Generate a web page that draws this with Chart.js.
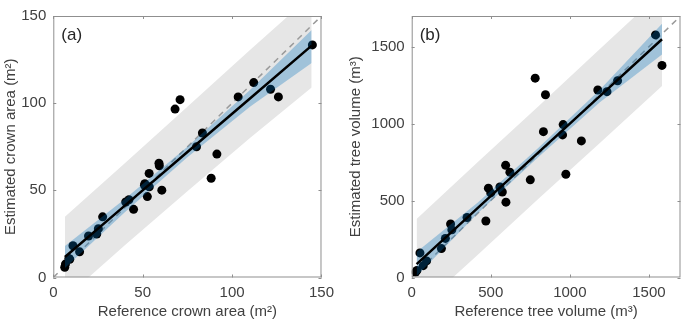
<!DOCTYPE html>
<html>
<head>
<meta charset="utf-8">
<script src="https://cdn.jsdelivr.net/npm/chart.js@4.4.1/dist/chart.umd.min.js"></script>
<style>
  body { margin: 0; background: #fff; }
  .wrap { position: relative; width: 685px; height: 324px; }
  .panel { position: absolute; top: 0; }
</style>
</head>
<body>
<div class="wrap">
  <canvas id="crownChart" class="panel" style="left:0" width="340" height="324"></canvas>
  <canvas id="volumeChart" class="panel" style="left:345px" width="340" height="324"></canvas>
</div>
<script>
// (a) crown area, m2
const crownRef = [6.4, 6.8, 8.7, 9.2, 11, 14.7, 19.7, 24.3, 25.2, 27.6, 40.5, 42.3, 44.9, 51, 51.2, 52.6,
    53.6, 53.7, 59.1, 59.3, 60.7, 68.1, 70.9, 80.1, 83.4, 88.3, 91.5, 103.4, 112.1, 121.5, 125.9, 144.9];
const crownEst = [5.9, 7.7, 10.9, 10.5, 18.2, 14.7, 23.8, 24.9, 28, 34.8, 43.3, 44.6, 39.1, 52.9, 53.8, 46.4,
    59.7, 52, 65.6, 64.1, 50.1, 96.6, 102, 75, 82.9, 56.9, 70.8, 103.6, 111.8, 108, 103.6, 133.4];
const crownBandX = [6.5, 40, 75, 110, 144.5];
const crownFit = [11.8, 41.2, 72, 102.7, 133];
const crownConfLow = [5.5, 37.5, 69, 98, 123];
const crownConfHigh = [18, 45, 75, 107.5, 142];
const crownPredLow = [-12, 18.5, 49.5, 80, 109];
const crownPredHigh = [34.8, 65.5, 98, 130.5, 162];
const crownTicks = [0, 50, 100, 150];

// (b) tree volume, m3
const volRef = [25, 33, 52, 73, 94, 188, 213, 246, 254, 350, 469, 485, 500, 558, 573, 594,
    596, 621, 750, 781, 846, 833, 958, 954, 975, 1073, 1177, 1235, 1302, 1542, 1583];
const volEst = [35, 46, 160, 77, 108, 188, 254, 348, 310, 390, 367, 581, 550, 588, 556, 729,
    490, 685, 635, 1296, 1188, 948, 994, 927, 671, 888, 1219, 1208, 1279, 1577, 1379];
const volBandX = [31, 420, 800, 1190, 1583];
const volFit = [87, 454, 812, 1179, 1549];
const volConfLow = [10, 420, 782, 1140, 1450];
const volConfHigh = [165, 490, 842, 1220, 1650];
const volPredLow = [-215, 150, 510, 875, 1245];
const volPredHigh = [380, 752, 1112, 1485, 1860];
const volTicks = [0, 500, 1000, 1500];

const textColor = '#404040';
const font = { family: '"Liberation Sans", Arial, sans-serif', size: 15 };

function xy(xs, ys) {
    return xs.map((v, i) => ({ x: v, y: ys[i] }));
}

// box round the axes with small inward ticks, plus the panel letter
const boxPlugin = {
    id: 'box',
    afterDraw(chart, args, opts) {
        const { ctx, chartArea: a, scales: { x, y } } = chart;
        ctx.save();
        ctx.strokeStyle = '#8f8f8f';
        ctx.lineWidth = 1;
        ctx.strokeRect(a.left + 0.5, a.top + 0.5, a.right - a.left - 1, a.bottom - a.top - 1);
        ctx.beginPath();
        x.ticks.forEach(t => {
            const px = Math.round(x.getPixelForValue(t.value)) + 0.5;
            ctx.moveTo(px, a.bottom); ctx.lineTo(px, a.bottom - 3);
            ctx.moveTo(px, a.top); ctx.lineTo(px, a.top + 3);
        });
        y.ticks.forEach(t => {
            const py = Math.round(y.getPixelForValue(t.value)) + 0.5;
            ctx.moveTo(a.left, py); ctx.lineTo(a.left + 3, py);
            ctx.moveTo(a.right, py); ctx.lineTo(a.right - 3, py);
        });
        ctx.stroke();
        ctx.fillStyle = '#262626';
        ctx.font = '17px ' + font.family;
        ctx.textBaseline = 'middle';
        ctx.fillText(opts.label, a.left + 8, a.top + 19);
        ctx.restore();
    }
};

function makeChart(id, p) {
    const ctx = document.getElementById(id).getContext('2d');
    return new Chart(ctx, {
        type: 'line',
        data: {
            datasets: [
                {   // fitted line
                    data: xy(p.bandX, p.fit),
                    borderColor: '#000', borderWidth: 2.5, pointRadius: 0, fill: false, order: 0
                },
                {   // confidence band
                    data: xy(p.bandX, p.confHigh),
                    borderWidth: 0, pointRadius: 0, fill: '+1',
                    backgroundColor: 'rgba(0,114,189,0.3)', order: 1
                },
                {
                    data: xy(p.bandX, p.confLow),
                    borderWidth: 0, pointRadius: 0, fill: false, order: 1
                },
                {   // observations
                    data: xy(p.ref, p.est),
                    showLine: false, pointRadius: 4.5, pointBackgroundColor: '#000',
                    pointBorderWidth: 0, order: 2
                },
                {   // 1:1 line
                    data: [{ x: 0, y: 0 }, { x: p.max, y: p.max }],
                    borderColor: '#9a9a9a', borderWidth: 1.5, borderDash: [6, 5],
                    pointRadius: 0, fill: false, order: 3
                },
                {   // prediction band
                    data: xy(p.bandX, p.predHigh),
                    borderWidth: 0, pointRadius: 0, fill: '+1',
                    backgroundColor: '#e6e6e6', order: 4
                },
                {
                    data: xy(p.bandX, p.predLow),
                    borderWidth: 0, pointRadius: 0, fill: false, order: 4
                }
            ]
        },
        options: {
            responsive: false,
            animation: false,
            layout: { padding: { top: 5, right: p.padRight, left: 0, bottom: 0 } },
            plugins: {
                legend: { display: false },
                tooltip: { enabled: false },
                box: { label: p.label }
            },
            scales: {
                x: {
                    type: 'linear', min: 0, max: p.max,
                    afterBuildTicks: s => { s.ticks = p.ticks.map(v => ({ value: v })); },
                    afterFit: s => { s.height = 46.5; },
                    grid: { display: false, drawTicks: false },
                    border: { display: false },
                    ticks: { color: textColor, font: font, padding: 6, maxRotation: 0,
                             callback: v => String(v) },
                    title: { display: true, text: p.xTitle, color: textColor, font: font,
                             padding: { top: 0, bottom: 3 } }
                },
                y: {
                    type: 'linear', min: 0, max: p.max,
                    afterBuildTicks: s => { s.ticks = p.ticks.map(v => ({ value: v })); },
                    afterFit: s => { s.width = p.yWidth; },
                    grid: { display: false, drawTicks: false },
                    border: { display: false },
                    ticks: { color: textColor, font: font, padding: 7,
                             callback: v => String(v) },
                    title: { display: true, text: p.yTitle, color: textColor, font: font,
                             padding: { top: 2, bottom: 0 } }
                }
            }
        },
        plugins: [boxPlugin]
    });
}

makeChart('crownChart', {
    label: '(a)', max: 150, ticks: crownTicks, yWidth: 53.3, padRight: 15,
    ref: crownRef, est: crownEst, bandX: crownBandX, fit: crownFit,
    confLow: crownConfLow, confHigh: crownConfHigh, predLow: crownPredLow, predHigh: crownPredHigh,
    xTitle: 'Reference crown area (m²)', yTitle: 'Estimated crown area (m²)'
});

makeChart('volumeChart', {
    label: '(b)', max: 1700, ticks: volTicks, yWidth: 66.7, padRight: 2,
    ref: volRef, est: volEst, bandX: volBandX, fit: volFit,
    confLow: volConfLow, confHigh: volConfHigh, predLow: volPredLow, predHigh: volPredHigh,
    xTitle: 'Reference tree volume (m³)', yTitle: 'Estimated tree volume (m³)'
});
</script>
</body>
</html>
